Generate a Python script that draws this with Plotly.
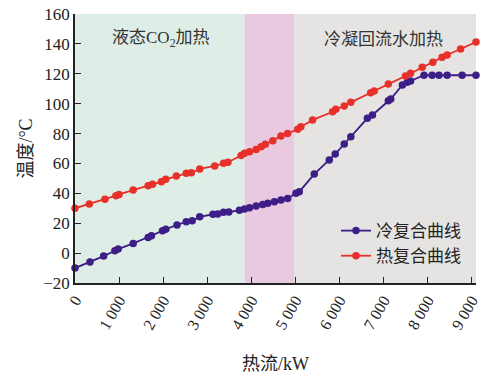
import plotly.graph_objects as go

# Cold composite curve (heat flow kW, temperature °C)
cold_q = [0, 340, 650, 905, 980, 1320, 1660, 1735, 1985, 2060, 2315, 2525, 2660, 2830,
          3130, 3240, 3370, 3490, 3730, 3846, 3960, 4110, 4260, 4375, 4525, 4675, 4825,
          5015, 5090, 5430, 5770, 5905, 6110, 6260, 6635, 6750, 7110, 7165, 7430, 7540,
          7615, 7920, 8105, 8260, 8445, 8785, 9100]
cold_t = [-10, -6, -2, 1.6, 2.7, 6.5, 10.5, 11.6, 15, 16, 18.8, 21, 21.6, 24.3,
          26, 26.1, 27.3, 27.5, 28.6, 29.5, 30.4, 31.5, 32.6, 33.3, 34.4, 35.5, 36.6,
          40, 41.1, 52.9, 62.3, 66.3, 73, 77.9, 90.2, 92.4, 102, 103.1, 112.5, 114.3,
          115.2, 119, 119, 119, 119, 119, 119]

# Hot composite curve
hot_q = [0, 325, 680, 930, 1000, 1320, 1660, 1760, 1960, 2060, 2300, 2525, 2640, 2830,
         3170, 3370, 3470, 3770, 3846, 3960, 4110, 4225, 4320, 4490, 4675, 4825, 5055,
         5125, 5390, 5845, 5920, 6110, 6260, 6710, 6790, 7110, 7500, 7615, 7880, 8120,
         8330, 8445, 8750, 9100]
hot_t = [30, 32.8, 36, 38.4, 39.3, 42.2, 45.1, 46, 47.8, 49.4, 51.6, 53.4, 53.8, 56.3,
         58.3, 60.1, 60.8, 65.3, 66.8, 67.8, 69.4, 71.2, 72.8, 75.2, 78.3, 80.1, 82.8,
         84.6, 89, 94.6, 96.2, 98.4, 100.9, 107.3, 108.5, 113.1, 118.5, 120.3, 124.3, 127.7,
         131, 132.6, 136.6, 141.3]

# Heating zones: (start, end, fill colour)
zones = [(0, 3850, "#dfede7"), (3850, 4970, "#e8c9df"), (4970, 9100, "#e6e4e3")]
zone_labels = [("液态CO<sub>2</sub>加热", 1950), ("冷凝回流水加热", 7000)]

x_ticks = list(range(0, 9001, 1000))
x_ticktext = ["0"] + [f"{v // 1000} 000" for v in x_ticks[1:]]
y_ticks = list(range(-20, 161, 20))
y_ticktext = [("\u2212" + str(-v)) if v < 0 else str(v) for v in y_ticks]

serif = "Liberation Serif, Times New Roman, Noto Sans CJK SC, serif"
purple = "#3d1e87"
red = "#e8302a"

fig = go.Figure()

for x0, x1, c in zones:
    fig.add_shape(type="rect", xref="x", yref="y", x0=x0, x1=x1, y0=-20, y1=160,
                  fillcolor=c, line_width=0, layer="below")

fig.add_trace(go.Scatter(x=cold_q, y=cold_t, mode="lines+markers", name="冷复合曲线",
                         line=dict(color=purple, width=1.8),
                         marker=dict(color=purple, size=7.5), cliponaxis=False))
fig.add_trace(go.Scatter(x=hot_q, y=hot_t, mode="lines+markers", name="热复合曲线",
                         line=dict(color=red, width=1.8),
                         marker=dict(color=red, size=7.5), cliponaxis=False))

for text, xv in zone_labels:
    fig.add_annotation(x=xv, y=143, xref="x", yref="y", text=text, showarrow=False,
                       font=dict(family=serif, size=17, color="#333333"))

fig.update_layout(
    width=481, height=383,
    margin=dict(l=75, r=5, t=14, b=100, autoexpand=False),
    paper_bgcolor="white", plot_bgcolor="white",
    font=dict(family=serif, size=16, color="#222222"),
    legend=dict(x=0.975, y=0.26, xanchor="right", yanchor="top",
                bgcolor="rgba(0,0,0,0)", font=dict(size=17), tracegroupgap=0),
    showlegend=True,
)
fig.update_xaxes(range=[0, 9100], tickvals=x_ticks, ticktext=x_ticktext, tickangle=-60,
                 ticks="inside", ticklen=6, tickcolor="#222", showline=True,
                 linecolor="#222", linewidth=1.5, showgrid=False, zeroline=False,
                 ticklabeloverflow="allow", automargin=False,
                 title=dict(text="热流/kW", standoff=26, font=dict(size=18)),
                 tickfont=dict(size=16))
fig.update_yaxes(range=[-20, 160], tickvals=y_ticks, ticktext=y_ticktext,
                 ticks="inside", ticklen=6, tickcolor="#222", showline=True,
                 linecolor="#222", linewidth=1.5, showgrid=False, zeroline=False,
                 automargin=False,
                 title=dict(text="温度/°C", standoff=6, font=dict(size=18)),
                 tickfont=dict(size=17))

fig.write_html("out.html")
